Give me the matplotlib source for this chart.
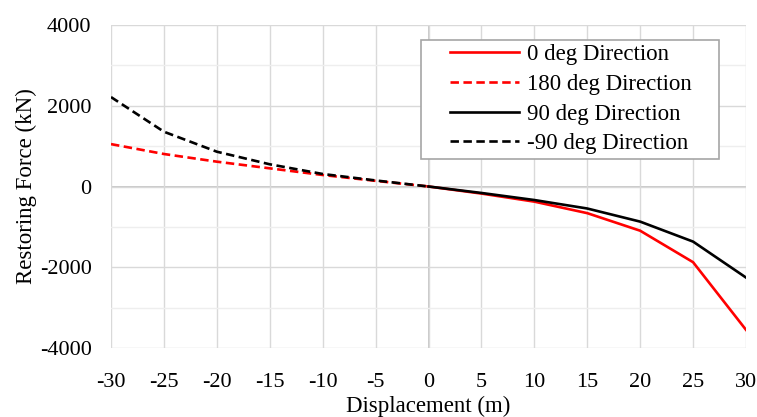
import numpy as np
import matplotlib.pyplot as plt
from matplotlib.ticker import MultipleLocator
from matplotlib.legend_handler import HandlerLine2D

plt.rcParams['font.family'] = ['Liberation Serif', 'DejaVu Serif']
plt.rcParams['axes.unicode_minus'] = False

disp_neg = [-30, -25, -20, -15, -10, -5, 0]
disp_pos = [0, 5, 10, 15, 20, 25, 30]

force_0 = [0, -175, -375, -660, -1095, -1875, -3550]
force_180 = [1050, 805, 615, 450, 285, 140, 0]
force_90 = [0, -160, -335, -545, -870, -1365, -2255]
force_m90 = [2215, 1357, 862, 550, 310, 150, 0]

labels = ['0 deg Direction', '180 deg Direction', '90 deg Direction', '-90 deg Direction']

fig = plt.figure(figsize=(7.57, 4.17), dpi=100)
ax = fig.add_axes([111 / 757, 1 - 348 / 417, 635 / 757, 323 / 417])

lw = 1.9
dash = (0, (3.2, 1.7))
# trailing en spaces give the legend its wider right margin
pad = '\u2002' * 2
ax.plot(disp_pos, force_0, color='#ff0000', lw=lw, label=labels[0] + pad, zorder=3)
ax.plot(disp_neg, force_180, color='#ff0000', lw=lw, ls=dash, label=labels[1] + pad, zorder=3)
ax.plot(disp_pos, force_90, color='black', lw=lw, label=labels[2] + pad, zorder=3)
ax.plot(disp_neg, force_m90, color='black', lw=lw, ls=dash, label=labels[3] + pad, zorder=3)

ax.set_xlim(-30, 30)
ax.set_ylim(-4000, 4000)
ax.xaxis.set_major_locator(MultipleLocator(5))
ax.yaxis.set_major_locator(MultipleLocator(2000))
ax.yaxis.set_minor_locator(MultipleLocator(1000))

ax.grid(True, which='major', color='#d9d9d9', lw=1.0, zorder=0)
ax.grid(True, which='minor', axis='y', color='#eeeeee', lw=1.0, zorder=0)
ax.axhline(0, color='#bfbfbf', lw=1.2, zorder=1)
ax.axvline(0, color='#bfbfbf', lw=1.2, zorder=1)

for s in ax.spines.values():
    s.set_visible(False)
ax.tick_params(which='both', length=0, labelsize=16, colors='black')
ax.tick_params(axis='y', pad=14)
ax.tick_params(axis='x', pad=18)

ax.set_xlabel('Displacement (m)', fontsize=16.5, labelpad=2.5)
ax.set_ylabel('Restoring Force (kN)', fontsize=16.5, labelpad=2)

leg = ax.legend(loc='upper right', bbox_to_anchor=(0.958, 0.955), fontsize=16.5,
                fancybox=False, framealpha=1, edgecolor='#a6a6a6',
                handlelength=4.08, labelspacing=0.38, borderpad=0.2, handletextpad=0.35,
                borderaxespad=0, handler_map={plt.Line2D: HandlerLine2D(xpad=1.07)})
leg.get_frame().set_linewidth(1.2)

fig.savefig('out.png', dpi=100)
